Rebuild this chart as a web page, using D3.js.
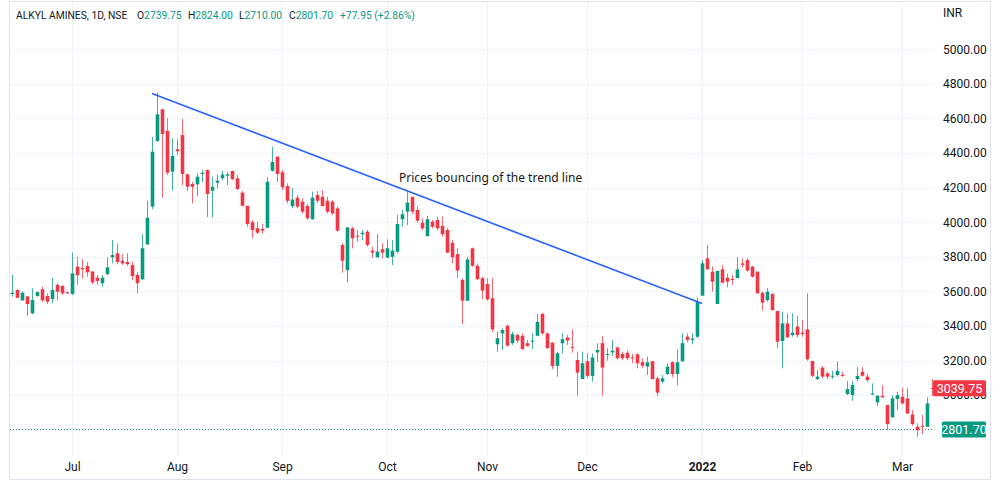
<!DOCTYPE html>
<html><head><meta charset="utf-8">
<script src="https://cdn.jsdelivr.net/npm/d3@7"></script>
<style>body{margin:0;background:#fff}svg{display:block}</style>
</head><body>
<script>
// ---- data ----
const opens = [3585,3608,3548,3571,3473,3573,3612,3573,3556,3637,3631,3595,3585,3743,3735,3747,3714,3679,3647,3700,
3797,3820,3776,3770,3752,3695,3670,3872,4090,4470,4653,4529,4292,4422,4504,4277,4221,4219,4279,4302,
4182,4228,4254,4269,4296,4254,4171,4095,4000,3965,3961,3968,4298,4379,4289,4209,4093,4142,4119,4094,
4017,4157,4147,4124,4119,4080,3868,3723,3965,3922,3930,3945,3835,3797,3843,3795,3800,3829,4017,4061,
4147,4071,3997,3920,4003,4013,3978,3955,3881,3816,3666,3546,3849,3748,3676,3643,3560,3294,3357,3401,
3300,3348,3343,3300,3309,3343,3469,3357,3304,3169,3300,3333,3280,3203,3093,3196,3111,3247,3300,3232,
3247,3276,3238,3245,3218,3236,3190,3165,3196,3097,3078,3122,3190,3122,3196,3338,3319,3338,3575,3791,
3714,3527,3727,3679,3672,3676,3762,3781,3743,3714,3592,3550,3585,3486,3313,3415,3347,3396,3361,3380,
3197,3093,3159,3126,3107,3116,3116,3006,3000,3093,3135,3107,3004,2958,2996,2943,2871,2977,2990,2981,
2888,2817,2823,2817,3042];
const highs = [3695,3612,3600,3575,3618,3600,3627,3589,3679,3647,3637,3600,3824,3800,3785,3770,3718,3695,3695,3797,
3897,3877,3814,3820,3771,3714,3930,4124,4494,4749,4655,4601,4485,4479,4597,4280,4234,4283,4302,4306,
4263,4277,4298,4292,4298,4273,4180,4095,4013,4003,3988,4260,4437,4380,4302,4225,4196,4157,4138,4105,
4176,4180,4186,4147,4128,4090,3878,3970,3974,3955,3955,3955,3858,3932,3878,3901,3897,4042,4071,4176,
4147,4094,4022,4036,4013,4032,4032,3965,3897,3849,3676,3800,3853,3762,3685,3676,3676,3367,3386,3409,
3367,3357,3357,3319,3357,3469,3475,3363,3304,3251,3357,3347,3380,3251,3251,3242,3242,3300,3342,3271,
3319,3280,3251,3257,3238,3242,3213,3222,3196,3107,3116,3184,3196,3265,3357,3357,3357,3560,3781,3868,
3743,3718,3752,3704,3695,3797,3791,3791,3747,3714,3598,3618,3589,3486,3482,3473,3473,3458,3434,3589,
3197,3145,3168,3135,3140,3193,3135,3082,3082,3161,3161,3126,3068,3000,3058,2943,3000,3019,3042,3039,
2914,2837,2885,2987,3093];
const lows = [3569,3560,3545,3457,3467,3569,3540,3527,3531,3550,3579,3585,3579,3637,3675,3685,3641,3637,3627,3695,
3762,3756,3752,3747,3665,3589,3666,3868,4075,4465,4144,4273,4182,4389,4215,4180,4109,4151,4232,4028,
4028,4196,4244,4215,4244,4186,4090,3974,3907,3932,3932,3965,4292,4234,4186,4109,4080,4080,4051,4013,
4013,4109,4090,4051,4042,3945,3708,3652,3849,3887,3897,3858,3795,3795,3791,3795,3752,3820,3974,3984,
4047,3997,3955,3916,3965,3955,3916,3820,3762,3676,3411,3546,3742,3666,3554,3546,3367,3251,3261,3280,
3290,3300,3261,3280,3267,3340,3347,3271,3149,3106,3242,3290,3245,2996,3093,3097,3078,3193,2996,3199,
3226,3207,3203,3203,3184,3155,3155,3116,3093,2996,3068,3116,3103,3058,3190,3305,3294,3329,3575,3727,
3598,3527,3647,3623,3637,3676,3739,3714,3679,3585,3488,3540,3488,3270,3155,3329,3338,3334,3338,3199,
3103,3087,3097,3093,3093,3107,3107,3000,2967,3082,3107,3078,3000,2937,2987,2798,2871,2914,2946,2890,
2823,2759,2775,2817,2996];
const closes = [3592,3563,3592,3527,3550,3596,3548,3540,3608,3598,3589,3590,3704,3693,3728,3710,3652,3660,3679,3739,
3810,3770,3762,3758,3689,3647,3849,4026,4408,4624,4510,4286,4383,4410,4279,4205,4205,4263,4286,4163,
4205,4240,4275,4277,4250,4192,4095,3990,3955,3939,3951,4234,4348,4279,4202,4124,4131,4090,4061,4023,
4142,4124,4094,4061,4051,3951,3777,3970,3907,3916,3939,3868,3824,3830,3824,3849,3835,3990,4046,4113,
4061,4009,3965,4017,3974,3965,3930,3824,3797,3720,3546,3785,3748,3670,3604,3554,3381,3329,3376,3286,
3353,3315,3267,3284,3315,3424,3357,3271,3169,3242,3323,3315,3274,3130,3184,3111,3217,3261,3159,3238,
3257,3213,3213,3213,3213,3184,3170,3190,3093,3014,3097,3165,3122,3190,3300,3319,3327,3540,3762,3727,
3656,3718,3650,3656,3666,3727,3754,3720,3685,3589,3535,3598,3492,3309,3415,3334,3361,3347,3353,3207,
3112,3107,3107,3107,3112,3140,3112,3035,3058,3111,3112,3087,3010,2996,2987,2833,2981,3000,2952,2894,
2833,2798,2817,2952,3039.75];

const monthTickIndex = [12,33,54,75,95,115,138,158,178];
const monthLabels = ["Jul","Aug","Sep","Oct","Nov","Dec","2022","Feb","Mar"];
const priceTicks = [2800,3000,3200,3400,3600,3800,4000,4200,4400,4600,4800,5000];
const trendIndex = [28,138];
const trendValues = [4745,3530];
const noteIndex = 77.4, noteValue = 4256;
const noteText = "Prices bouncing of the trend line";
const lastPrice = 2801.70;     // dotted price line
const livePrice = 3039.75;     // last bar close
const headerName = "ALKYL AMINES, 1D, NSE";
const headerKeys = ["O","H","L","C"];
const headerVals = ["2739.75","2824.00","2710.00","2801.70"];
const headerChange = "+77.95 (+2.86%)";

// ---- drawing ----
const W=1000,H=481;
const UP="#089981", DN="#f23645", TXT="#131722", GRID="#f0f3fa";
const plotL=10, plotR=933, plotT=2, plotB=455;
const svg=d3.select("body").append("svg").attr("width",W).attr("height",H)
  .style("font-family","Roboto, 'Noto Sans', sans-serif");

const n=opens.length;
const x=d3.scaleLinear().domain([0,184]).range([12,932]);
const y=d3.scaleLinear().domain([3000,5000]).range([395.1,49.3]);

// frame
svg.append("rect").attr("x",9.5).attr("y",1.5).attr("width",981).attr("height",478)
  .attr("fill","none").attr("stroke","#e0e3eb");

// grid
svg.append("g").selectAll("line").data(priceTicks).join("line")
  .attr("x1",plotL).attr("x2",plotR).attr("y1",d=>Math.round(y(d))+0.5).attr("y2",d=>Math.round(y(d))+0.5)
  .attr("stroke",GRID);
svg.append("g").selectAll("line").data(monthTickIndex).join("line")
  .attr("x1",d=>Math.round(x(d))+0.5).attr("x2",d=>Math.round(x(d))+0.5).attr("y1",plotT).attr("y2",plotB)
  .attr("stroke",GRID);

// price axis (right)
const pa=svg.append("g").attr("transform",`translate(${plotR},0)`)
  .call(d3.axisRight(y).tickValues(priceTicks.filter(v=>v>=3000)).tickFormat(d3.format(".2f")).tickSize(0).tickPadding(10));
pa.select(".domain").remove();
pa.selectAll("text").attr("fill",TXT).attr("font-size",12).attr("font-family","Roboto, sans-serif");
svg.append("text").attr("x",plotR+10).attr("y",17).attr("fill",TXT).attr("font-size",12).text("INR");

// time axis
const ta=svg.append("g").attr("transform",`translate(0,${plotB})`)
  .call(d3.axisBottom(x).tickValues(monthTickIndex).tickFormat((d,i)=>monthLabels[i]).tickSize(0).tickPadding(7));
ta.select(".domain").remove();
ta.selectAll("text").attr("fill",TXT).attr("font-size",12).attr("font-family","Roboto, sans-serif")
  .attr("font-weight",(d,i)=>monthLabels[i]==="2022"?"bold":"normal");

// dotted last price line
svg.append("line").attr("x1",plotL).attr("x2",plotR)
  .attr("y1",Math.round(y(lastPrice))+0.5).attr("y2",Math.round(y(lastPrice))+0.5)
  .attr("stroke",UP).attr("stroke-width",1).attr("stroke-dasharray","1,2");

// candles
const idx=d3.range(n);
const bw=3.6;
const g=svg.append("g");
g.selectAll("line.wick").data(idx).join("line").attr("class","wick")
  .attr("x1",i=>Math.round(x(i))+0.5).attr("x2",i=>Math.round(x(i))+0.5)
  .attr("y1",i=>y(highs[i])).attr("y2",i=>y(lows[i]))
  .attr("stroke",i=>closes[i]>=opens[i]?UP:DN).attr("stroke-width",1).attr("opacity",0.75);
g.selectAll("rect.body").data(idx).join("rect").attr("class","body")
  .attr("x",i=>Math.round(x(i))+0.5-bw/2).attr("width",bw)
  .attr("y",i=>y(Math.max(opens[i],closes[i])))
  .attr("height",i=>Math.max(1,Math.abs(y(opens[i])-y(closes[i]))))
  .attr("fill",i=>closes[i]>=opens[i]?UP:DN);

// trend line
const line=d3.line().x(d=>x(d[0])).y(d=>y(d[1]));
svg.append("path").datum(trendIndex.map((d,i)=>[d,trendValues[i]]))
  .attr("d",line).attr("fill","none").attr("stroke","#2962ff").attr("stroke-width",1.6);

// annotation
svg.append("text").attr("x",x(noteIndex)).attr("y",y(noteValue)).attr("dy","0.35em")
  .attr("fill",TXT).attr("font-size",12).attr("font-family","'Noto Sans', sans-serif").text(noteText);

// price labels
function priceLabel(v,color,x0){
  const yy=y(v);
  svg.append("rect").attr("x",x0).attr("y",yy-8).attr("width",986-x0).attr("height",16).attr("rx",1.5).attr("fill",color);
  svg.append("text").attr("x",(x0+986)/2).attr("y",yy).attr("dy","0.35em").attr("text-anchor","middle")
    .attr("fill","#fff").attr("font-size",12.5).text(d3.format(".2f")(v));
}
priceLabel(livePrice,DN,933);
priceLabel(lastPrice,UP,942);

// header
const hx=[137,188,239,289];
const HFS=10.3;
svg.append("text").attr("x",16).attr("y",19).attr("font-size",HFS).attr("fill",TXT).text(headerName);
headerKeys.forEach((k,i)=>{
  const t=svg.append("text").attr("x",hx[i]).attr("y",19).attr("font-size",HFS);
  t.append("tspan").attr("fill",TXT).text(k);
  t.append("tspan").attr("fill",UP).text(headerVals[i]);
});
svg.append("text").attr("x",340).attr("y",19).attr("font-size",HFS).attr("fill",UP).text(headerChange);
</script>
</body></html>
